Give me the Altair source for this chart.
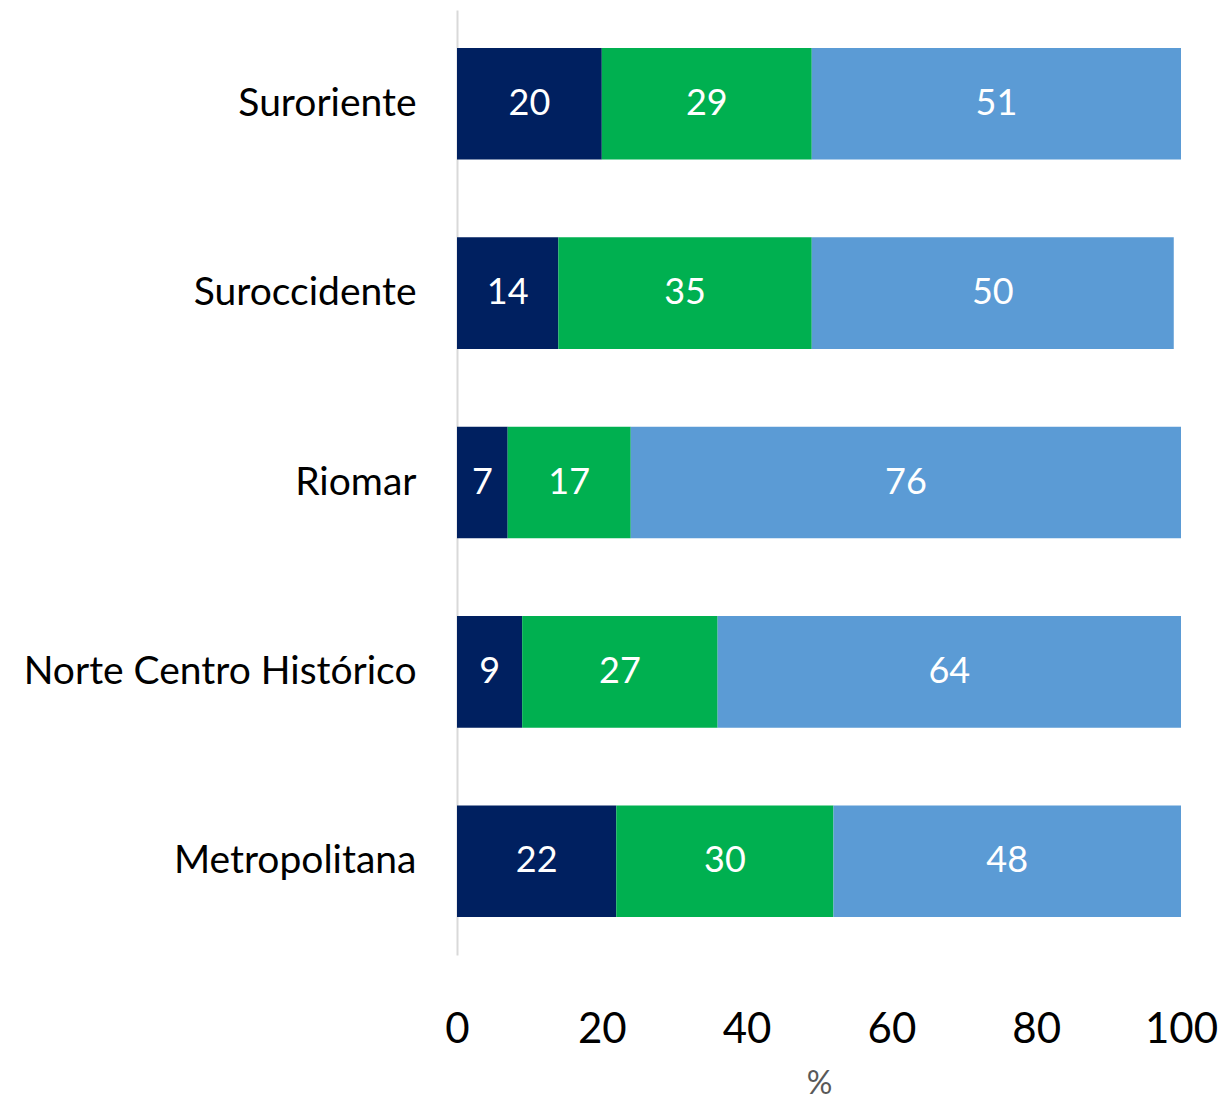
import altair as alt
import pandas as pd

zones = ["Suroriente", "Suroccidente", "Riomar", "Norte Centro Histórico", "Metropolitana"]
serie1 = [20, 14, 7, 9, 22]
serie2 = [29, 35, 17, 27, 30]
serie3 = [51, 50, 76, 64, 48]
series = ["Serie 1", "Serie 2", "Serie 3"]
colors = ["#002060", "#00B050", "#5B9BD5"]
x_ticks = [0, 20, 40, 60, 80, 100]

rows = []
for i, z in enumerate(zones):
    for k, (name, vals) in enumerate(zip(series, [serie1, serie2, serie3])):
        rows.append({"zona": z, "serie": name, "orden": k, "valor": vals[i]})
df = pd.DataFrame(rows)

FONT = "Lato"

base = alt.Chart(df).transform_stack(
    stack="valor", groupby=["zona"], as_=["x0", "x1"], sort=[alt.SortField("orden")]
).transform_calculate(mid="(datum.x0 + datum.x1) / 2")

y_enc = alt.Y(
    "zona:N",
    sort=zones,
    scale=alt.Scale(paddingInner=0.41, paddingOuter=0.2),
    axis=alt.Axis(
        title=None,
        ticks=False,
        domainColor="#D9D9D9",
        domainWidth=2,
        labelFontSize=39,
        labelFont=FONT,
        labelColor="#000000",
        labelPadding=41,
        labelLimit=0,
    ),
)

bars = base.mark_bar().encode(
    x=alt.X(
        "x0:Q",
        scale=alt.Scale(domain=[0, 100], nice=False),
        axis=alt.Axis(
            values=x_ticks,
            domain=False,
            ticks=False,
            grid=False,
            labelFontSize=42,
            labelFont=FONT,
            labelColor="#000000",
            labelPadding=54,
            labelFlush=False,
            labelOverlap=False,
            title="%",
            titleFont=FONT,
            titleFontSize=32,
            titleFontWeight="normal",
            titleColor="#595959",
            titlePadding=18,
        ),
    ),
    x2="x1:Q",
    y=y_enc,
    color=alt.Color("serie:N", scale=alt.Scale(domain=series, range=colors), legend=None),
)

labels = base.mark_text(
    color="white", font=FONT, fontSize=36, baseline="middle", align="center"
).encode(
    x="mid:Q",
    y=alt.Y("zona:N", sort=zones),
    text="valor:Q",
)

chart = (
    alt.layer(bars, labels)
    .properties(
        width=724,
        height=945,
        autosize=alt.AutoSizeParams(type="none"),
        padding={"left": 449, "top": 2, "right": 37, "bottom": 147},
    )
    .configure_view(stroke=None)
)

chart.save("out.html", embed_options={"renderer": "svg", "actions": False})
